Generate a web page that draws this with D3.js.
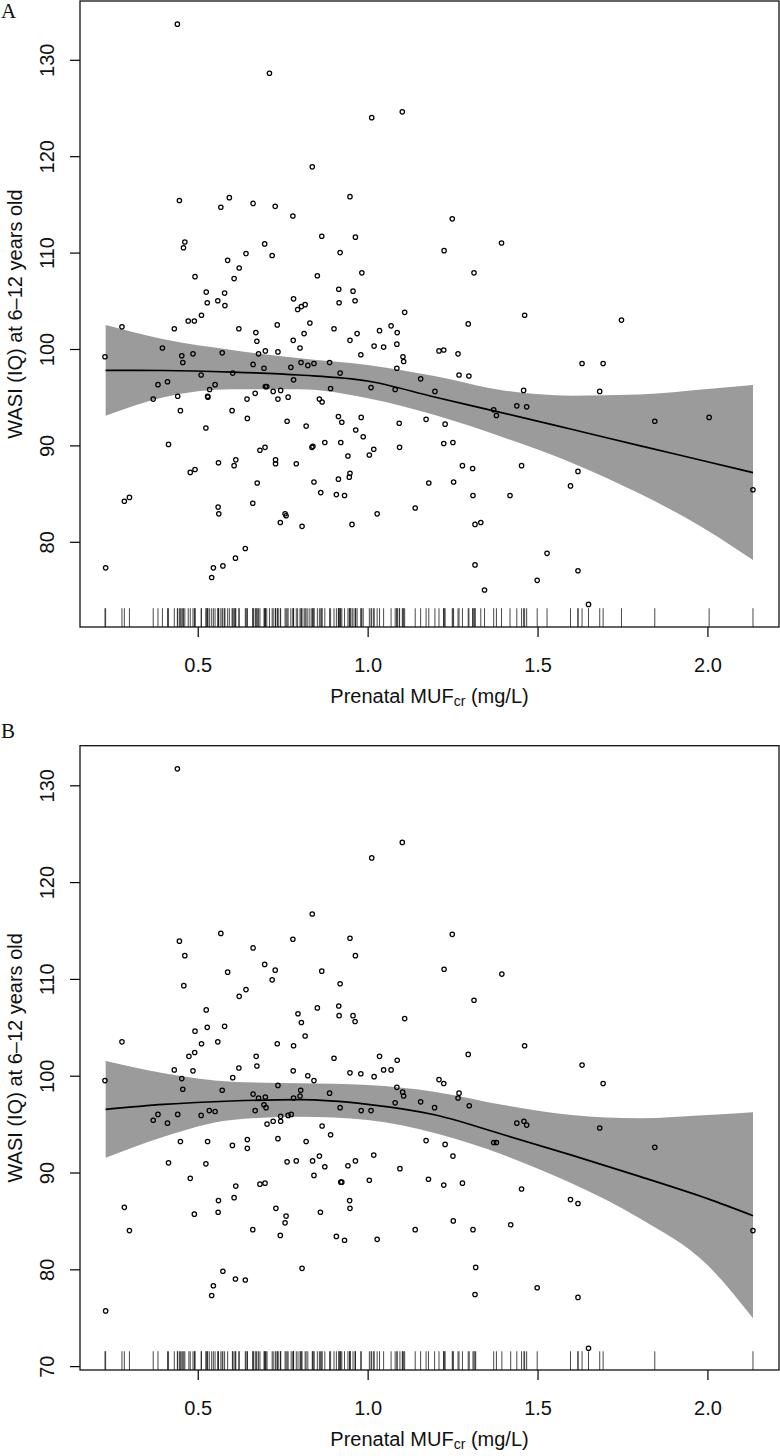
<!DOCTYPE html>
<html><head><meta charset="utf-8">
<script src="https://cdn.jsdelivr.net/npm/d3@7"></script>
<style>
body{margin:0;background:#fff}
svg{display:block}
text{font-family:"Liberation Sans",Arial,Helvetica,sans-serif}
</style>
</head><body>
<script>
// ---------- data ----------
const xTicks = [0.5, 1.0, 1.5, 2.0];
const yTicksA = [80, 90, 100, 110, 120, 130];
const yTicksB = [70, 80, 90, 100, 110, 120, 130];
const xTitle = "Prenatal MUF";
const xTitleSub = "cr";
const xTitleUnit = " (mg/L)";
const yTitle = "WASI (IQ) at 6\u201312 years old";
const panelLetters = ["A", "B"];

// Panel A observations (MUFcr, IQ)
const xA = [0.440,0.711,1.012,1.102,0.837,0.446,0.593,0.568,0.663,0.728,0.780,0.948,0.462,0.458,0.697,0.642,0.719,0.588,0.865,0.964,
0.919,0.622,0.607,0.492,0.852,0.983,0.525,0.579,0.528,0.559,0.580,0.782,0.794,0.805,0.816,0.915,0.957,0.916,0.963,1.109,
0.511,0.472,0.490,0.277,0.431,0.621,0.671,0.734,0.830,0.813,0.901,0.969,1.035,1.069,1.087,0.674,0.781,0.948,1.019,1.047,
1.086,0.396,0.227,0.453,0.456,0.486,0.572,0.679,0.699,0.736,0.801,0.980,1.104,1.106,0.663,0.695,0.774,0.804,0.824,0.842,
0.888,1.086,0.510,0.603,0.782,0.919,1.156,0.383,0.411,0.551,0.535,0.699,0.703,0.722,0.744,0.891,1.010,1.081,0.369,0.441,
0.529,0.530,0.645,0.669,0.736,0.766,0.858,0.866,0.449,0.601,0.646,0.763,0.914,0.924,0.981,1.093,1.172,0.524,0.819,0.965,
0.987,0.414,0.683,0.698,0.836,0.839,0.874,0.921,1.018,1.094,0.942,1.005,0.561,0.612,0.607,0.729,0.729,0.790,0.478,0.492,
0.948,0.946,0.914,0.675,0.842,1.180,0.862,0.908,0.932,0.284,0.299,0.662,0.560,0.562,0.757,0.760,1.140,1.028,0.743,0.807,
0.954,0.640,0.611,0.574,0.546,0.541,0.229,1.249,1.394,1.225,1.313,1.462,1.747,1.296,1.210,1.224,1.266,1.631,1.693,1.269,
1.298,1.198,1.459,1.683,1.371,1.379,1.439,1.468,1.845,2.005,1.228,1.224,1.251,1.279,1.309,1.453,1.619,1.253,1.597,1.310,
1.419,2.134,1.316,1.333,1.528,1.316,1.619,1.499,1.344,1.650];
const yA = [133.7,128.6,124.0,124.6,118.9,115.4,115.7,114.7,115.1,114.8,113.8,115.8,111.1,110.5,110.9,109.9,109.7,109.2,111.7,111.6,
110.0,108.4,107.3,107.5,107.6,107.9,105.9,105.8,104.8,105.0,104.5,105.2,104.1,104.4,104.6,106.2,106.0,104.8,105.0,103.8,
103.5,102.9,102.9,102.3,102.1,102.1,101.7,102.5,102.7,101.6,102.1,101.6,101.9,102.4,101.7,100.8,100.9,100.9,100.3,100.2,
100.5,100.1,99.2,99.3,98.6,99.5,99.6,99.5,99.8,99.7,100.1,99.4,99.2,98.7,98.4,98.0,98.1,98.6,98.3,98.5,
98.6,98.0,97.3,97.5,96.8,97.5,96.9,96.3,96.6,96.3,95.8,96.1,96.1,95.6,95.7,95.9,96.0,95.8,94.8,95.1,
95.1,95.0,94.8,95.4,94.8,95.0,94.8,94.5,93.6,93.6,92.8,92.5,93.0,92.4,92.9,92.3,92.7,91.8,92.0,91.6,
90.9,90.1,89.5,89.8,89.8,89.9,90.3,90.3,89.6,89.8,88.9,89.0,88.2,88.5,87.9,88.5,88.1,88.1,87.2,87.5,
87.1,86.7,86.5,86.1,86.2,86.1,85.1,84.9,84.8,84.2,84.6,84.0,83.6,82.9,82.9,82.7,83.5,82.9,82.0,81.6,
81.8,79.3,78.3,77.5,77.3,76.3,77.3,113.5,111.0,110.2,107.9,103.5,103.0,102.6,99.8,99.9,99.5,98.5,98.5,97.3,
97.2,95.6,95.7,95.6,93.7,93.1,94.1,94.0,92.5,92.9,92.2,90.2,90.3,87.9,87.6,87.9,87.3,86.2,85.8,84.8,
84.8,85.4,81.8,82.0,78.8,77.6,77.0,76.0,75.0,73.5];

// Panel B observations
const xB = [0.440,1.102,1.012,0.837,0.568,0.446,0.780,0.948,0.663,0.462,0.964,0.697,0.728,0.588,0.865,0.719,0.459,0.919,0.642,0.622,
0.525,0.852,0.915,0.795,0.916,0.957,0.805,0.963,1.109,0.528,0.579,0.492,0.816,0.511,0.559,0.734,0.782,0.277,0.474,0.491,
0.672,0.674,0.901,1.035,1.087,0.621,0.431,0.486,0.781,0.948,0.980,1.047,1.069,1.019,0.824,0.842,0.603,0.453,0.227,0.736,
1.086,0.456,0.572,0.663,0.679,0.699,0.803,0.801,0.782,0.888,1.103,1.106,1.156,1.081,0.695,0.701,0.919,0.669,0.981,1.010,
0.369,0.383,0.411,0.441,0.510,0.534,0.551,0.704,0.722,0.744,0.744,0.766,0.775,0.866,0.891,0.449,0.529,0.602,0.646,0.646,
0.736,0.819,1.172,0.414,0.524,0.763,0.790,0.838,0.858,0.874,0.942,0.964,1.018,1.095,0.478,0.842,0.921,0.924,1.005,1.179,
0.683,0.698,0.612,0.607,0.561,0.947,0.948,0.284,0.730,0.760,0.490,0.560,0.861,0.757,0.299,0.662,0.743,0.908,0.932,1.028,
1.140,0.807,0.574,0.611,0.640,0.546,0.541,0.229,1.249,1.225,1.395,1.313,1.462,1.296,1.631,1.693,1.210,1.224,1.269,1.266,
1.299,1.197,1.439,1.460,1.468,1.683,1.371,1.379,1.228,1.845,1.251,1.224,1.279,1.453,1.597,1.619,1.252,1.310,1.421,2.134,
1.318,1.316,1.499,1.619,1.650];
const yB = [131.7,124.1,122.5,116.7,114.7,113.9,114.1,114.2,113.2,112.4,112.4,111.5,110.9,110.7,110.8,109.9,109.3,109.5,108.9,108.2,
106.8,107.0,107.2,106.4,106.2,106.2,105.5,105.6,105.9,105.0,105.1,104.6,104.1,103.3,103.5,103.3,103.1,103.5,102.0,102.4,
102.0,101.0,101.8,102.0,101.6,100.8,100.6,100.5,100.5,100.3,100.2,100.6,100.6,99.9,100.0,99.5,99.8,99.7,99.5,99.0,
98.8,98.6,98.5,98.1,97.7,97.8,98.5,97.9,97.7,98.2,98.3,97.9,97.3,97.2,97.0,96.7,96.7,96.4,96.4,96.4,
95.4,96.0,95.1,96.0,95.9,96.4,96.3,95.0,95.3,95.8,95.3,95.9,96.0,94.8,93.9,93.2,93.2,92.8,93.4,92.5,
93.5,93.2,93.3,91.0,90.9,91.1,91.2,91.2,91.7,90.6,90.7,91.2,91.8,90.4,89.4,89.7,89.0,89.0,89.2,89.3,
88.8,88.9,88.6,87.4,87.1,87.1,86.3,86.4,86.3,85.5,85.7,85.9,85.9,84.8,84.0,84.1,83.5,83.4,83.0,83.1,
84.1,80.1,79.8,79.0,78.9,78.3,77.3,75.7,114.6,111.0,110.5,107.8,103.1,102.2,101.1,99.2,99.6,99.2,98.2,97.7,
96.9,96.7,95.1,95.3,94.9,94.6,93.1,93.1,92.9,92.6,91.7,88.7,88.9,88.3,87.2,86.8,85.0,84.1,84.6,84.0,
80.2,77.4,78.1,77.1,71.85];

// Fitted curve and 95% CI (read at these MUFcr values)
const fitX = [0.229, 0.4, 0.6, 0.8, 1.0, 1.2, 1.4, 1.6, 1.8, 2.0, 2.134];
const fitA = [97.79, 97.77, 97.61, 97.30, 96.68, 94.99, 93.35, 91.67, 89.98, 88.30, 87.17];
const loA  = [93.08, 94.99, 95.82, 95.82, 94.89, 93.13, 90.82, 88.21, 85.00, 81.18, 78.11];
const hiA  = [102.49, 101.01, 99.90, 99.04, 98.34, 97.17, 95.70, 95.16, 95.28, 95.85, 96.27];
const fitB = [96.53, 97.04, 97.39, 97.52, 97.04, 95.94, 93.90, 91.80, 89.60, 87.30, 85.54];
const loB  = [91.53, 93.70, 95.42, 95.76, 95.42, 94.05, 91.81, 88.88, 85.27, 80.44, 74.94];
const hiB  = [101.52, 100.25, 99.38, 99.21, 99.04, 98.32, 96.97, 95.94, 95.60, 95.94, 96.22];

// ---------- drawing ----------
const W = 780, H = 1456;
const svg = d3.select("body").append("svg").attr("width", W).attr("height", H);
const L = 80, R = 779;
const xDomain = [0.1535, 2.2106];
const FS = 20;

function panel(o) {
  const x = d3.scaleLinear().domain(xDomain).range([L, R]);
  const y = d3.scaleLinear().domain(o.yDomain).range([o.bottom, o.top]);
  const g = svg.append("g");

  const area = d3.area()
    .x((d, i) => x(fitX[i])).y0((d, i) => y(o.lo[i])).y1((d, i) => y(o.hi[i]))
    .curve(d3.curveMonotoneX);
  g.append("path").datum(fitX).attr("d", area).attr("fill", "#9b9b9b");

  g.append("g").selectAll("circle").data(o.xs).join("circle")
    .attr("cx", d => x(d)).attr("cy", (d, i) => y(o.ys[i]))
    .attr("r", 2.2).attr("fill", "none").attr("stroke", "#000").attr("stroke-width", 1.25);

  const line = d3.line().x((d, i) => x(fitX[i])).y((d, i) => y(o.fit[i])).curve(d3.curveMonotoneX);
  g.append("path").datum(fitX).attr("d", line).attr("fill", "none")
    .attr("stroke", "#000").attr("stroke-width", 1.7);

  const rugLen = (o.bottom - o.top) * 0.03;
  g.append("g").selectAll("line").data(o.xs).join("line")
    .attr("x1", d => x(d)).attr("x2", d => x(d))
    .attr("y1", o.bottom).attr("y2", o.bottom - rugLen)
    .attr("stroke", "#1a1a1a").attr("stroke-width", 0.8);

  // x axis
  const gx = g.append("g").attr("transform", `translate(0,${o.bottom})`)
    .call(d3.axisBottom(x).tickValues(xTicks).tickFormat(d3.format(".1f")).tickSize(10));
  gx.select(".domain").remove();
  gx.attr("font-size", FS);
  gx.selectAll(".tick line").attr("stroke", "#000").attr("stroke-width", 1.2);
  gx.selectAll(".tick text").attr("y", 45).attr("dy", 0).attr("fill", "#111");

  // y axis
  const gy = g.append("g").attr("transform", `translate(${L},0)`)
    .call(d3.axisLeft(y).tickValues(o.yTicks).tickSize(10));
  gy.select(".domain").remove();
  gy.attr("font-size", FS);
  gy.selectAll(".tick line").attr("stroke", "#000").attr("stroke-width", 1.2);
  gy.selectAll(".tick text").attr("transform", "rotate(-90)")
    .attr("x", 0).attr("y", -26).attr("dy", 0).attr("text-anchor", "middle").attr("fill", "#111");

  // box
  g.append("rect").attr("x", L).attr("y", o.top).attr("width", R - L).attr("height", o.bottom - o.top)
    .attr("fill", "none").attr("stroke", "#111").attr("stroke-width", 1.3);

  // x title
  const t = g.append("text").attr("x", (L + R) / 2).attr("y", o.bottom + 76)
    .attr("text-anchor", "middle").attr("font-size", FS).attr("fill", "#111");
  t.append("tspan").text(xTitle);
  t.append("tspan").attr("font-size", FS * 0.7).attr("dy", 3).text(xTitleSub);
  t.append("tspan").attr("dy", -3).text(xTitleUnit);

  // y title
  const cy = (o.top + o.bottom) / 2;
  g.append("text").attr("transform", `translate(22,${cy}) rotate(-90)`)
    .attr("text-anchor", "middle").attr("font-size", FS).attr("fill", "#111").text(yTitle);

  // panel letter
  g.append("text").attr("x", 1).attr("y", o.letterY)
    .style("font-family", "'Liberation Serif','Times New Roman',serif")
    .attr("font-size", 21).attr("fill", "#111").text(o.letter);
}

panel({top: 1, bottom: 627, yDomain: [71.16, 136.1], yTicks: yTicksA,
  xs: xA, ys: yA, fit: fitA, lo: loA, hi: hiA, letter: panelLetters[0], letterY: 18});
panel({top: 745.7, bottom: 1370, yDomain: [69.6, 134.09], yTicks: yTicksB,
  xs: xB, ys: yB, fit: fitB, lo: loB, hi: hiB, letter: panelLetters[1], letterY: 738});
</script>
</body></html>
